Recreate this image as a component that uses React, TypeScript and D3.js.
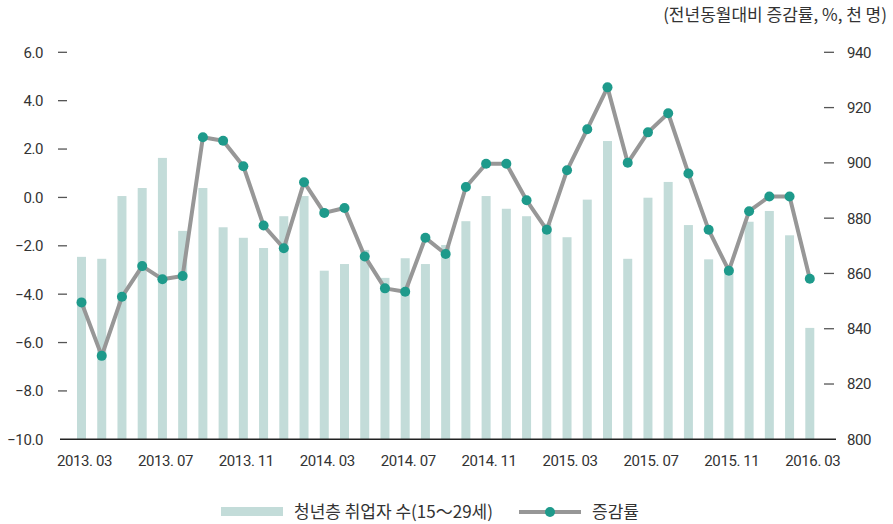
import React from "react";
import * as d3 from "d3";

// months 2013.03 ~ 2016.03
const months = [
  "2013.03", "2013.04", "2013.05", "2013.06", "2013.07", "2013.08", "2013.09", "2013.10", "2013.11", "2013.12",
  "2014.01", "2014.02", "2014.03", "2014.04", "2014.05", "2014.06", "2014.07", "2014.08", "2014.09", "2014.10",
  "2014.11", "2014.12", "2015.01", "2015.02", "2015.03", "2015.04", "2015.05", "2015.06", "2015.07", "2015.08",
  "2015.09", "2015.10", "2015.11", "2015.12", "2016.01", "2016.02", "2016.03",
];
const tickMonths = ["2013.03", "2013.07", "2013.11", "2014.03", "2014.07", "2014.11", "2015.03", "2015.07", "2015.11", "2016.03"];

// 청년층 취업자 수 (천 명) - right axis
const employed = [
  866.0, 865.3, 888.0, 890.9, 901.8, 875.4, 890.9, 876.7, 872.9, 869.2,
  880.7, 888.0, 861.0, 863.4, 868.5, 858.4, 865.5, 863.4, 870.3, 878.9,
  888.0, 883.4, 880.7, 878.0, 873.1, 886.7, 907.9, 865.3, 887.4, 893.1,
  877.5, 865.1, 862.0, 878.7, 882.6, 873.8, 840.3,
];
// 증감률 (%) - left axis
const rate = [
  -4.34, -6.55, -4.11, -2.84, -3.38, -3.25, 2.49, 2.34, 1.29, -1.16,
  -2.1, 0.63, -0.64, -0.44, -2.44, -3.76, -3.9, -1.67, -2.34, 0.43,
  1.39, 1.39, -0.12, -1.34, 1.12, 2.82, 4.55, 1.43, 2.69, 3.48,
  0.99, -1.34, -3.03, -0.57, 0.04, 0.04, -3.36,
];
const leftTicks = [6, 4, 2, 0, -2, -4, -6, -8, -10];
const rightTicks = [940, 920, 900, 880, 860, 840, 820, 800];

const W = 893;
const H = 524;
const barColor = "#c3dcd9";
const lineColor = "#979797";
const dotColor = "#1e9a8b";
const textColor = "#333";
const numFont = "Roboto, sans-serif";
const krFont = "'Noto Sans CJK KR', sans-serif";

export default function App() {
  const x = d3.scalePoint<string>().domain(months).range([81.5, 809.8]);
  const yL = d3.scaleLinear().domain([-10, 6]).range([439.3, 52.3]);
  const yR = d3.scaleLinear().domain([800, 940]).range([439.3, 52.3]);
  const barW = 9;

  const line = d3
    .line<number>()
    .x((_, i) => x(months[i]) as number)
    .y((d) => yL(d));

  return (
    <svg
      width={W}
      height={H}
      style={{ position: "absolute", left: 0, top: 0, background: "#fff" }}
    >
      {/* unit note */}
      <text
        x={887}
        y={15}
        dy="0.36em"
        textAnchor="end"
        fontFamily={krFont}
        fontSize={17}
        fill={textColor}
      >
        (전년동월대비 증감률, %, 천 명)
      </text>

      {/* bars */}
      {employed.map((v, i) => (
        <rect
          key={"b" + i}
          x={(x(months[i]) as number) - barW / 2}
          y={yR(v)}
          width={barW}
          height={yR(800) - yR(v)}
          fill={barColor}
        />
      ))}

      {/* line */}
      <path d={line(rate) || ""} fill="none" stroke={lineColor} strokeWidth={4} strokeLinejoin="round" />
      {rate.map((v, i) => (
        <circle key={"c" + i} cx={x(months[i]) as number} cy={yL(v)} r={5} fill={dotColor} />
      ))}

      {/* x axis */}
      <line x1={60} x2={836} y1={yL(-10)} y2={yL(-10)} stroke="#222" strokeWidth={1.5} />
      {tickMonths.map((m) => (
        <text
          key={m}
          x={(x(m) as number) + 3}
          y={466}
          textAnchor="middle"
          fontFamily={numFont}
          fontSize={15}
          letterSpacing={-0.4}
          fill={textColor}
        >
          {m.replace(".", ". ")}
        </text>
      ))}

      {/* left axis */}
      {leftTicks.map((t) => (
        <g key={"l" + t}>
          {t > -10 && <line x1={58} x2={67} y1={yL(t)} y2={yL(t)} stroke="#555" strokeWidth={1.3} />}
          <text
            x={43}
            y={yL(t)}
            dy="0.36em"
            textAnchor="end"
            fontFamily={numFont}
            fontSize={15}
            letterSpacing={-0.4}
            fill={textColor}
          >
            {d3.format(".1f")(t)}
          </text>
        </g>
      ))}

      {/* right axis */}
      {rightTicks.map((t) => (
        <g key={"r" + t}>
          {t > 800 && <line x1={824} x2={834} y1={yR(t)} y2={yR(t)} stroke="#555" strokeWidth={1.3} />}
          <text
            x={847}
            y={yR(t)}
            dy="0.36em"
            textAnchor="start"
            fontFamily={numFont}
            fontSize={15}
            letterSpacing={-0.4}
            fill={textColor}
          >
            {t}
          </text>
        </g>
      ))}

      {/* legend */}
      <rect x={221} y={507} width={62} height={9} fill={barColor} />
      <text x={294} y={512} dy="0.36em" fontFamily={krFont} fontSize={17} fill={textColor}>
        청년층 취업자 수(15～29세)
      </text>
      <line x1={519} x2={581} y1={512} y2={512} stroke={lineColor} strokeWidth={4} />
      <circle cx={550} cy={512} r={5} fill={dotColor} />
      <text x={592} y={512} dy="0.36em" fontFamily={krFont} fontSize={17} fill={textColor}>
        증감률
      </text>
    </svg>
  );
}
